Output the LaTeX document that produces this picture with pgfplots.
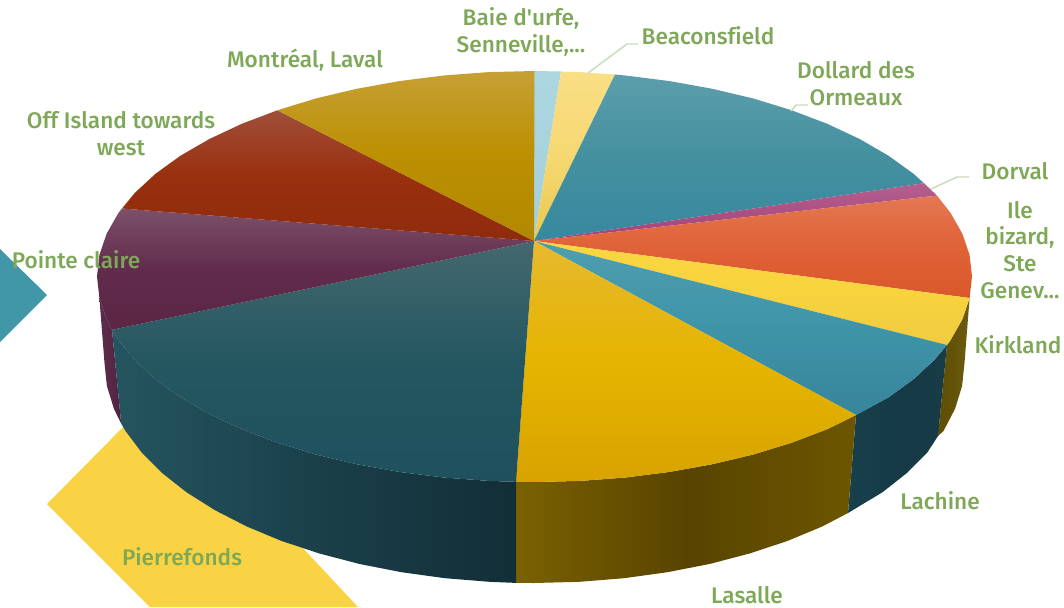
\documentclass[border=0pt]{standalone}
\usepackage{fontspec}
\setmainfont[UprightFont=* Medium, Ligatures=NoCommon]{Fira Sans}
\usepackage{pgfplots}
\pgfplotsset{compat=1.18}

\definecolor{lab}{HTML}{7EA858}
\definecolor{lead}{HTML}{C9DCBB}
\definecolor{bgteal}{HTML}{4197A8}
\definecolor{bgyellow}{HTML}{F9D344}

\tikzset{
  slice/.style n args={3}{draw=none, no markers,
    /utils/exec={\definecolor{ca}{HTML}{#1}\definecolor{cb}{HTML}{#2}\definecolor{cc}{HTML}{#3}},
    top color=ca, bottom color=cc, middle color=cb},
  side/.style n args={3}{draw=none, no markers,
    /utils/exec={\definecolor{ca}{HTML}{#1}\definecolor{cb}{HTML}{#2}\definecolor{cc}{HTML}{#3}},
    left color=ca, right color=cc, middle color=cb},
  lbl/.style={text=lab, align=center, inner sep=0pt, font=\fontsize{22.7}{27}\selectfont},
}

\begin{document}
\begin{tikzpicture}
\begin{axis}[
  name=pie,
  hide axis,
  scale only axis,
  width=1064bp, height=607bp,
  xmin=0, xmax=1064,
  ymin=0, ymax=607,
  y dir=reverse,
  clip=true,
]
% shapes behind the pie
\addplot[draw=none, no markers, fill=bgteal] coordinates {(0,249) (47,295) (0,342)} -- cycle;
\addplot[draw=none, no markers, fill=bgyellow] coordinates {(47,504) (130,420) (300,545) (358,607) (150,607)} -- cycle;

% sides
\addplot[side={5C2B4A}{5A2848}{4F203E}] coordinates {(99.4,298) (104.5,363) (106.9,386) (113.9,408.7) (121.2,423.6) (112,329.8) (106.6,319.2)} -- cycle;
\addplot[side={5E4F08}{635308}{6E5D10}] coordinates {(947,345) (950.6,340) (962.4,319.2) (969.6,298) (964.5,363) (962.1,386) (955.1,408.7) (943.5,431) (938,436)} -- cycle;
\addplot[side={17404C}{163A46}{183B46}] coordinates {(856,415) (888.5,397.3) (913.4,379.3) (934.2,360.1) (947,345) (938,436) (927.3,452.5) (906.9,473) (882.4,492.3) (848,513)} -- cycle;
\addplot[side={7A6102}{584400}{6C5600}] coordinates {(516,481.8) (534.5,482) (580.2,480.9) (625.5,477.5) (669.7,471.9) (712.4,464.2) (753.3,454.5) (791.7,442.7) (827.2,429.2) (856,415) (848,513) (822.2,526.5) (787.3,541) (749.5,553.5) (709.4,564) (667.4,572.2) (623.9,578.2) (579.4,581.8) (534.5,583) (516,582.9)} -- cycle;
\addplot[side={25555F}{1A404A}{122E37}] coordinates {(112,329.8) (118.4,340) (134.8,360.1) (155.6,379.3) (180.5,397.3) (209.4,414) (241.8,429.2) (277.3,442.7) (315.7,454.5) (356.6,464.2) (399.3,471.9) (443.5,477.5) (488.8,480.9) (516,481.8) (516,582.9) (489.6,581.8) (445.1,578.2) (401.6,572.2) (359.6,564) (319.5,553.5) (281.7,541) (246.8,526.5) (215,510.2) (186.6,492.3) (162.1,473) (141.7,452.5) (125.5,431) (121.2,423.6)} -- cycle;

% top faces, clockwise from Baie d'urfe
\addplot[slice={ADD6E0}{A8D3DE}{A4CFDA}] coordinates {(534,241) (534.5,71) (561,71.5)} -- cycle;
\addplot[slice={F9DF85}{F6D872}{E8C94E}] coordinates {(534,241) (561,71.5) (580.2,72.1) (615,74.5)} -- cycle;
\addplot[slice={5C9EAB}{44909F}{37889F}] coordinates {(534,241) (615,74.5) (625.5,75.5) (669.7,81.1) (712.4,88.8) (753.3,98.5) (791.7,110.3) (827.2,123.8) (859.6,139) (888.5,155.7) (913.4,173.7) (924,183.2)} -- cycle;
\addplot[slice={B4608F}{AC5083}{A3427A}] coordinates {(534,241) (924,183.2) (934.2,192.9) (937,195.6)} -- cycle;
\addplot[slice={E37852}{E06237}{D9582B}] coordinates {(534,241) (937,195.6) (950.6,213) (962.4,233.8) (969.6,255) (972,276.5) (969.6,298)} -- cycle;
\addplot[slice={FAD63F}{F8D33E}{EFCC40}] coordinates {(534,241) (969.6,298) (962.4,319.2) (950.6,340) (947,345)} -- cycle;
\addplot[slice={4E9FAE}{3F94A8}{37859B}] coordinates {(534,241) (947,345) (934.2,360.1) (913.4,379.3) (888.5,397.3) (856,415)} -- cycle;
\addplot[slice={E7B92F}{E5B400}{D8A300}] coordinates {(534,241) (856,415) (827.2,429.2) (791.7,442.7) (753.3,454.5) (712.4,464.2) (669.7,471.9) (625.5,477.5) (580.2,480.9) (534.5,482) (516,481.8)} -- cycle;
\addplot[slice={44686F}{245760}{1F505E}] coordinates {(534,241) (516,481.8) (488.8,480.9) (443.5,477.5) (399.3,471.9) (356.6,464.2) (315.7,454.5) (277.3,442.7) (241.8,429.2) (209.4,414) (180.5,397.3) (155.6,379.3) (134.8,360.1) (118.4,340) (112,329.8)} -- cycle;
\addplot[slice={7C506A}{612C4C}{5A2644}] coordinates {(534,241) (112,329.8) (106.6,319.2) (99.4,298) (97,276.5) (99.4,255) (106.6,233.8) (118.4,213) (122,208.5)} -- cycle;
\addplot[slice={A04F3A}{99300E}{8F2B0C}] coordinates {(534,241) (122,208.5) (134.8,192.9) (155.6,173.7) (180.5,155.7) (209.4,139) (241.8,123.8) (277.3,110.3)} -- cycle;
\addplot[slice={C6A035}{BC8F00}{B08800}] coordinates {(534,241) (277.3,110.3) (315.7,98.5) (356.6,88.8) (399.3,81.1) (443.5,75.5) (488.8,72.1) (534.5,71)} -- cycle;

% leader lines
\addplot[draw=lead, line width=1.5pt, no markers] coordinates {(588,73) (627,44) (638,44)};
\addplot[draw=lead, line width=1.5pt, no markers] coordinates {(791,111) (796,105) (808,105)};
\addplot[draw=lead, line width=1.5pt, no markers] coordinates {(931,189) (957,177) (969,177)};

% labels
\node[lbl] at (axis cs:521,32) {Baie d\textquotesingle urfe,\\Senneville,...};
\node[lbl] at (axis cs:708,36) {Beaconsfield};
\node[lbl] at (axis cs:856,84) {Dollard des\\Ormeaux};
\node[lbl] at (axis cs:1015,171) {Dorval};
\node[lbl] at (axis cs:1020,250) {Ile\\bizard,\\Ste\\Genev...};
\node[lbl] at (axis cs:1018,345) {Kirkland};
\node[lbl] at (axis cs:940,501) {Lachine};
\node[lbl] at (axis cs:747,595) {Lasalle};
\node[lbl] at (axis cs:182,557) {Pierrefonds};
\node[lbl] at (axis cs:76,260) {Pointe claire};
\node[lbl] at (axis cs:121,134) {Off Island towards\\west};
\node[lbl] at (axis cs:305,60) {Montréal, Laval};
\end{axis}
\pgfresetboundingbox
\path[use as bounding box] (pie.south west) rectangle (pie.north east);
\end{tikzpicture}
\end{document}
